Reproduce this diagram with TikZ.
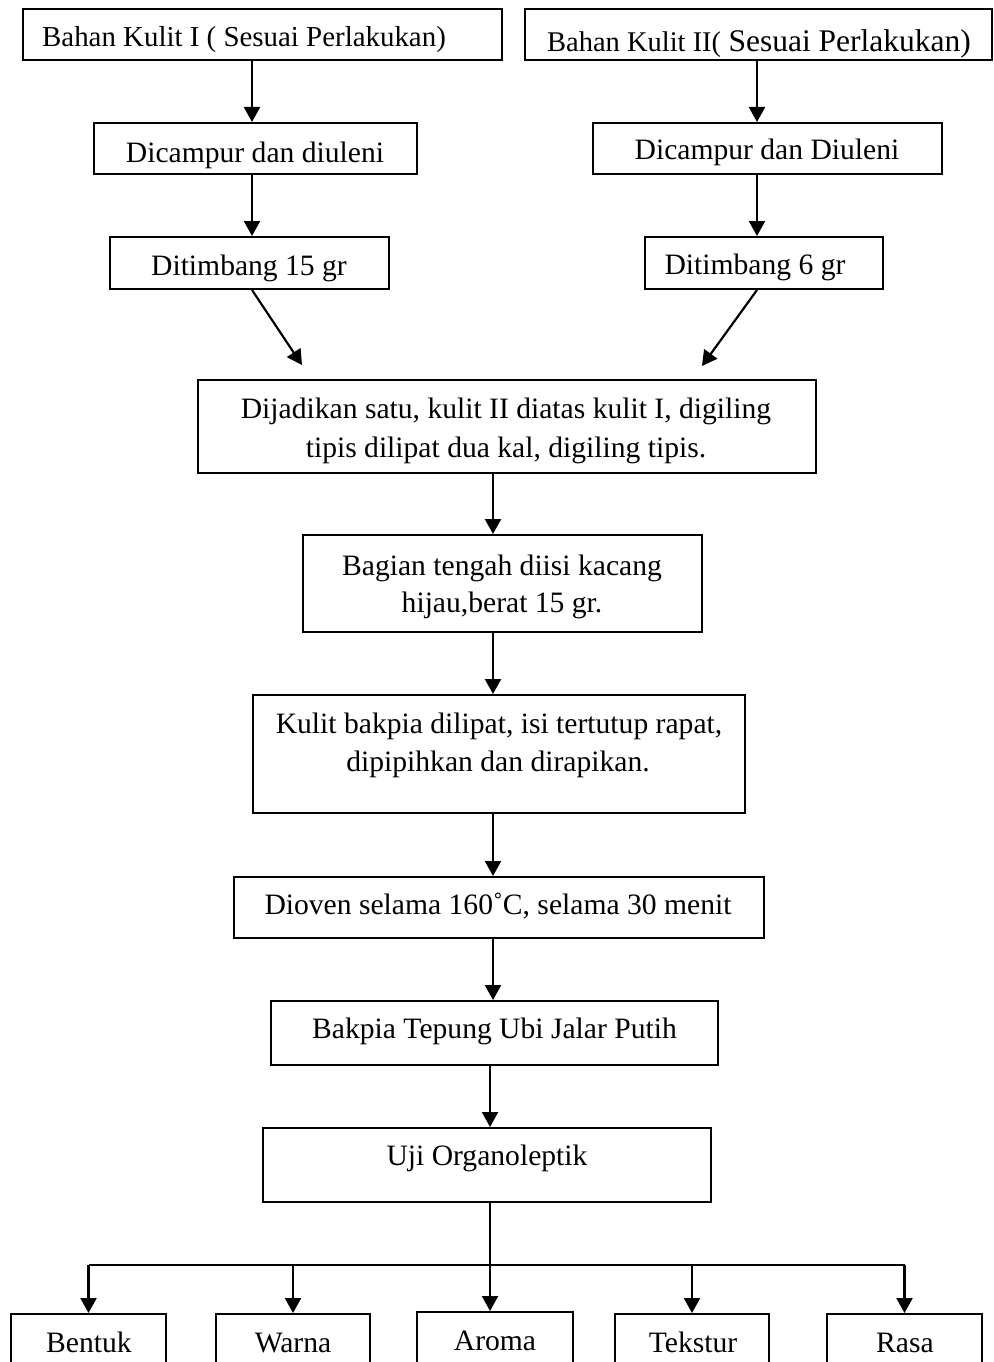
\documentclass[tikz,border=0pt]{standalone}
\usepackage{fontspec}
\setmainfont{Liberation Serif}
\usetikzlibrary{arrows.meta,calc}
\tikzset{
  bx/.style={draw, line width=2pt, inner sep=0pt, rectangle},
  tx/.style={anchor=base, inner sep=0pt, font=\fontsize{29.6}{38}\selectfont},
  arr/.style={line width=2.2pt, -{Triangle[length=15pt,width=16pt]}},
  ln/.style={line width=2.2pt}
}
\newcommand\mkbox[5]{\node[bx, minimum width={#4-#2}, minimum height={#5-#3}] (#1) at ({(#2+#4)/2},{(#3+#5)/2}) {};}
\begin{document}
\begin{tikzpicture}[x=1pt,y=-1pt]
\useasboundingbox (0,0) rectangle (993,1362);
\clip (0,0) rectangle (993,1362);
% boxes
\mkbox{b1}{23}{9}{502}{60}
\mkbox{b2}{525}{9}{992}{60}
\mkbox{b3}{94}{123}{417}{174}
\mkbox{b4}{593}{123}{942}{174}
\mkbox{b5}{110}{237}{389}{289}
\mkbox{b6}{645}{237}{883}{289}
\mkbox{b7}{198}{380}{816}{473}
\mkbox{b8}{303}{535}{702}{632}
\mkbox{b9}{253}{695}{745}{813}
\mkbox{b10}{234}{877}{764}{938}
\mkbox{b11}{271}{1001}{718}{1065}
\mkbox{b12}{263}{1128}{711}{1202}
\mkbox{c1}{11}{1314}{166}{1390}
\mkbox{c2}{216}{1314}{370}{1390}
\mkbox{c3}{417}{1312}{573}{1390}
\mkbox{c4}{615}{1314}{769}{1390}
\mkbox{c5}{827}{1314}{982}{1390}
% texts
\node[tx, font=\fontsize{28.9}{38}\selectfont] (t1) at (244,47) {Bahan Kulit I ( Sesuai Perlakukan)};
\node[tx] (t2) at (759,52) {{\fontsize{28.5}{34}\selectfont Bahan Kulit II(} {\fontsize{31.5}{40}\selectfont Sesuai Perlakukan)}};
\node[tx] (t3) at (255,162) {Dicampur dan diuleni};
\node[tx] (t4) at (767,160) {Dicampur dan Diuleni};
\node[tx] (t5) at (249,275) {Ditimbang 15 gr};
\node[tx] (t6) at (755,274) {Ditimbang 6 gr};
\node[tx] (t7a) at (506,418) {Dijadikan satu, kulit II diatas kulit I, digiling};
\node[tx] (t7b) at (506,457) {tipis dilipat dua kal, digiling tipis.};
\node[tx] (t8a) at (502,575) {Bagian tengah diisi kacang};
\node[tx] (t8b) at (502,612) {hijau,berat 15 gr.};
\node[tx] (t9a) at (499,733) {Kulit bakpia dilipat, isi tertutup rapat,};
\node[tx] (t9b) at (498,771) {dipipihkan dan dirapikan.};
\node[tx] (t10) at (498,914) {Dioven selama 160˚C, selama 30 menit};
\node[tx] (t11) at (494.5,1038) {Bakpia Tepung Ubi Jalar Putih};
\node[tx] (t12) at (487,1165) {Uji Organoleptik};
\node[tx] (u1) at (89,1352) {Bentuk};
\node[tx] (u2) at (293,1352) {Warna};
\node[tx] (u3) at (495,1350) {Aroma};
\node[tx] (u4) at (693,1352) {Tekstur};
\node[tx] (u5) at (905,1352) {Rasa};
% spines
\coordinate (sl) at (252,0);
\coordinate (sr) at (757,0);
\coordinate (sm) at (493,0);
\coordinate (sb) at (490,0);
\coordinate (e1) at (302,365);
\coordinate (e2) at (702,366);
\coordinate (bus) at (0,1265);
% connectors
\draw[arr] (b1.south -| sl) -- (b3.north -| sl);
\draw[arr] (b3.south -| sl) -- (b5.north -| sl);
\draw[arr] (b2.south -| sr) -- (b4.north -| sr);
\draw[arr] (b4.south -| sr) -- (b6.north -| sr);
\draw[arr] (b5.south -| sl) -- (e1);
\draw[arr] (b6.south -| sr) -- (e2);
\draw[arr] (b7.south -| sm) -- (b8.north -| sm);
\draw[arr] (b8.south -| sm) -- (b9.north -| sm);
\draw[arr] (b9.south -| sm) -- (b10.north -| sm);
\draw[arr] (b10.south -| sm) -- (b11.north -| sm);
\draw[arr] (b11.south -| sb) -- (b12.north -| sb);
\draw[arr] (b12.south -| sb) -- (c3.north -| sb);
\draw[ln] (bus -| c1.north) -- (bus -| c5.north);
\foreach \c in {c1,c2,c4,c5}{\draw[arr] (bus -| \c.north) -- (\c.north);}
\end{tikzpicture}
\end{document}
